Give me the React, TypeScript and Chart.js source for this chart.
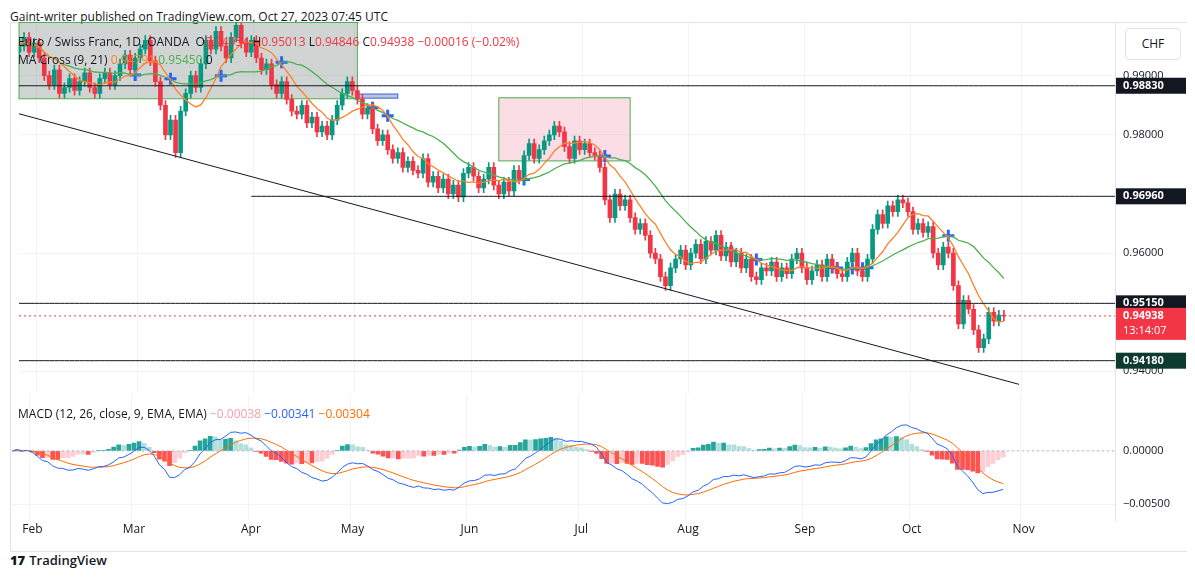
import React, { useEffect, useRef } from "react";
import { Chart, registerables } from "chart.js";
Chart.register(...registerables);

const closes = [
  0.9950, 0.9965, 0.9940, 0.9955,
  0.9930, 0.9900, 0.9885, 0.9910, 0.9870, 0.9880, 0.9895, 0.9875, 0.9890, 0.9905, 0.9880, 0.9870, 0.9895, 0.9905, 0.9885, 0.9900, 0.9920, 0.9935, 0.9910, 0.9930,
  0.9945, 0.9960, 0.9925, 0.9890, 0.9850, 0.9800, 0.9825, 0.9770, 0.9840, 0.9870, 0.9900, 0.9880, 0.9920, 0.9960, 0.9945, 0.9975, 0.9950, 0.9930, 0.9965, 0.9985, 0.9955, 0.9940, 0.9960,
  0.9930, 0.9910, 0.9920, 0.9885, 0.9870, 0.9890, 0.9860, 0.9840, 0.9835, 0.9850, 0.9820, 0.9830, 0.9805, 0.9815, 0.9800, 0.9825, 0.9850, 0.9870, 0.9890, 0.9875,
  0.9860, 0.9835, 0.9845, 0.9810, 0.9790, 0.9800, 0.9775, 0.9760, 0.9770, 0.9745, 0.9755, 0.9740, 0.9735, 0.9760, 0.9720, 0.9730, 0.9710, 0.9725, 0.9700, 0.9715, 0.9695, 0.9735, 0.9745,
  0.9730, 0.9710, 0.9725, 0.9745, 0.9715, 0.9700, 0.9720, 0.9705, 0.9740, 0.9725, 0.9765, 0.9785, 0.9760, 0.9775, 0.9790, 0.9800, 0.9815, 0.9805, 0.9780, 0.9760, 0.9790, 0.9775,
  0.9785, 0.9770, 0.9765, 0.9745, 0.9690, 0.9660, 0.9700, 0.9680, 0.9690, 0.9660, 0.9640, 0.9650, 0.9630, 0.9600, 0.9590, 0.9560, 0.9545, 0.9575, 0.9590, 0.9605, 0.9580,
  0.9600, 0.9615, 0.9590, 0.9620, 0.9605, 0.9630, 0.9595, 0.9610, 0.9585, 0.9600, 0.9575, 0.9590, 0.9560, 0.9555, 0.9575, 0.9570, 0.9585, 0.9560, 0.9575, 0.9565, 0.9590, 0.9600, 0.9575,
  0.9555, 0.9570, 0.9580, 0.9560, 0.9590, 0.9575, 0.9565, 0.9560, 0.9585, 0.9600, 0.9570, 0.9560, 0.9590, 0.9640, 0.9665, 0.9650, 0.9680, 0.9670, 0.9690, 0.9685, 0.9670,
  0.9640, 0.9650, 0.9635, 0.9645, 0.9600, 0.9580, 0.9610, 0.9600, 0.9545, 0.9480, 0.9520, 0.9505, 0.9470, 0.9440, 0.9455, 0.9500, 0.9485, 0.9495, 0.94938,
];
const firstOpen = 0.9940;
const wick = 0.0008;
const levels = [0.9883, 0.9696, 0.9515, 0.9418];
const levelLabels = ["0.98830", "0.96960", "0.95150", "0.94180"];
const lastPrice = 0.94938;
const priceTicks = [0.99, 0.98, 0.96, 0.94];
const macdTicks = [0, -0.005];
const trendStart = 0.98356;
const trendEnd = 0.9378;
const trendEndIdx = 198;
const level2StartIdx = 46;
const grayBox = { i0: 0, i1: 67, top: 0.999, bottom: 0.9861 };
const blueBox = { i0: 67, i1: 75, top: 0.9869, bottom: 0.9862 };
const pinkBox = { i0: 95, i1: 121, top: 0.98627, bottom: 0.97559 };
const monthNames = ["Jan", "Feb", "Mar", "Apr", "May", "Jun", "Jul", "Aug", "Sep", "Oct", "Nov", "Dec"];

const labels: string[] = [];
const monthStart: Record<number, string> = {};
{
  const d = new Date(Date.UTC(2023, 0, 26));
  let lastM = 0;
  while (labels.length < closes.length + 22) {
    const wd = d.getUTCDay();
    if (wd !== 0 && wd !== 6) {
      const m = d.getUTCMonth();
      if (m !== lastM) { monthStart[labels.length] = monthNames[m]; lastM = m; }
      labels.push(d.toISOString().slice(0, 10));
    }
    d.setUTCDate(d.getUTCDate() + 1);
  }
}

const opens = closes.map((c, i) => (i === 0 ? firstOpen : closes[i - 1]));
const sma = (n: number) => closes.map((_, i) => {
  const s = closes.slice(Math.max(0, i - n + 1), i + 1);
  return s.reduce((a, b) => a + b, 0) / s.length;
});
const ema = (arr: number[], n: number) => {
  const k = 2 / (n + 1); const out: number[] = []; let prev = arr[0];
  arr.forEach((v, i) => { prev = i === 0 ? v : v * k + prev * (1 - k); out.push(prev); });
  return out;
};
const ma9 = sma(9), ma21 = sma(21);
const e12 = ema(closes, 12), e26 = ema(closes, 26);
const macd = e12.map((v, i) => v - e26[i]);
const signal = ema(macd, 9);
const hist = macd.map((v, i) => v - signal[i]);
const crosses = closes.map((_, i) => {
  if (i === 0) return null;
  const a = ma9[i - 1] - ma21[i - 1], b = ma9[i] - ma21[i];
  return a * b < 0 ? ma21[i] : null;
});

const UP = "#089981", DN = "#f23645";

const rectPlugin = {
  id: "rects",
  beforeDatasetsDraw(chart: any) {
    const { ctx, scales: { x, y } } = chart;
    const box = (b: any, fill: string, stroke: string) => {
      const x0 = x.getPixelForValue(b.i0), x1 = x.getPixelForValue(b.i1);
      const y0 = y.getPixelForValue(b.top), y1 = y.getPixelForValue(b.bottom);
      ctx.save(); ctx.fillStyle = fill; ctx.fillRect(x0, y0, x1 - x0, y1 - y0);
      ctx.strokeStyle = stroke; ctx.lineWidth = 1; ctx.strokeRect(x0, y0, x1 - x0, y1 - y0); ctx.restore();
    };
    box(grayBox, "rgba(120,135,130,0.35)", "#4caf50");
    box(pinkBox, "rgba(247,180,200,0.45)", "#4caf50");
    box(blueBox, "rgba(180,185,190,0.8)", "#2962ff");
  },
  afterDraw(chart: any) {
    const { ctx, scales: { y }, chartArea } = chart;
    const lbl = (v: number, text: string, bg: string, h = 16, sub?: string) => {
      const py = y.getPixelForValue(v);
      ctx.save(); ctx.fillStyle = bg;
      const hh = sub ? 32 : h;
      ctx.fillRect(chartArea.right + 1, py - h / 2, 70, hh);
      ctx.fillStyle = "#fff"; ctx.font = "bold 11px 'Open Sans', sans-serif"; ctx.textBaseline = "middle";
      ctx.fillText(text, chartArea.right + 8, py);
      if (sub) { ctx.font = "11px 'Open Sans', sans-serif"; ctx.fillText(sub, chartArea.right + 8, py + 15); }
      ctx.restore();
    };
    lbl(levels[0], levelLabels[0], "#131722");
    lbl(levels[1], levelLabels[1], "#131722");
    lbl(levels[2], levelLabels[2], "#131722");
    lbl(levels[3], levelLabels[3], "#0d3b2e");
    lbl(lastPrice, lastPrice.toFixed(5), "#f23645", 16, "13:14:07");
  },
};

const monthGrid = (ctx: any) => (monthStart[ctx.index] ? "#f0f3fa" : "transparent");

export default function App() {
  const r1 = useRef<HTMLCanvasElement>(null);
  const r2 = useRef<HTMLCanvasElement>(null);
  useEffect(() => {
    const flat = (v: number, from = 0) => labels.map((_, i) => (i >= from ? v : null));
    const trend = labels.map((_, i) => (i === 0 ? trendStart : i === trendEndIdx ? trendEnd : null));
    const lineDs = (data: any[], color: string, extra: any = {}) => ({
      type: "line", data, borderColor: color, borderWidth: 1, pointRadius: 0, spanGaps: true, ...extra,
    });
    const c1 = new Chart(r1.current!, {
      type: "bar",
      data: {
        labels,
        datasets: [
          lineDs(flat(levels[0]), "#131722"),
          lineDs(flat(levels[1], level2StartIdx), "#131722"),
          lineDs(flat(levels[2]), "#131722"),
          lineDs(flat(levels[3]), "#131722"),
          lineDs(flat(lastPrice), "#f23645", { borderDash: [2, 3] }),
          lineDs(trend, "#131722"),
          lineDs(ma9, "#ff7f27", { borderWidth: 1.3 }),
          lineDs(ma21, "#4caf50", { borderWidth: 1.3 }),
          { type: "bar", data: closes.map((c, i) => [Math.min(c, opens[i]) - wick, Math.max(c, opens[i]) + wick]),
            backgroundColor: closes.map((c, i) => (c >= opens[i] ? UP : DN)), barThickness: 1, grouped: false } as any,
          { type: "bar", data: closes.map((c, i) => [opens[i], c === opens[i] ? c + 0.00005 : c]),
            backgroundColor: closes.map((c, i) => (c >= opens[i] ? UP : DN)), barThickness: 4, grouped: false } as any,
          lineDs(crosses, "#2962ff", { showLine: false, pointStyle: "cross", pointRadius: 6, pointBorderWidth: 3, pointBorderColor: "#2962ff" }),
        ] as any,
      },
      options: {
        animation: false, responsive: false, maintainAspectRatio: false,
        plugins: { legend: { display: false }, tooltip: { enabled: false } },
        layout: { padding: 0 },
        scales: {
          x: { offset: false, ticks: { display: false }, grid: { color: monthGrid as any, drawTicks: false }, border: { display: false } },
          y: {
            position: "right", min: 0.93627, max: 0.99898,
            afterBuildTicks: (s: any) => { s.ticks = priceTicks.map((v) => ({ value: v })); },
            afterFit: (s: any) => { s.width = 75; },
            ticks: { callback: (v: any) => Number(v).toFixed(5), color: "#131722", font: { size: 11, family: "'Open Sans', sans-serif" }, padding: 8 },
            grid: { color: "#f0f3fa", drawTicks: false }, border: { color: "#e0e3eb" },
          },
        },
      },
      plugins: [rectPlugin],
    } as any);
    const hcol = hist.map((h, i) => {
      const p = i ? hist[i - 1] : h;
      return h >= 0 ? (h >= p ? "#26a69a" : "#b2dfdb") : (h < p ? "#ff5252" : "#ffcdd2");
    });
    const c2 = new Chart(r2.current!, {
      type: "bar",
      data: {
        labels,
        datasets: [
          lineDs(flat(0), "#b2b5be", { borderDash: [2, 3] }),
          lineDs(macd, "#2962ff"),
          lineDs(signal, "#ff6d00"),
          { type: "bar", data: hist, backgroundColor: hcol, barThickness: 4, grouped: false } as any,
        ] as any,
      },
      options: {
        animation: false, responsive: false, maintainAspectRatio: false,
        plugins: { legend: { display: false }, tooltip: { enabled: false } },
        scales: {
          x: { offset: false, grid: { color: monthGrid as any, drawTicks: false }, border: { display: false },
            ticks: { autoSkip: false, maxRotation: 0, color: "#131722", font: { size: 12, family: "'Open Sans', sans-serif" }, padding: 2,
              callback: (_: any, i: number) => monthStart[i] || "" } },
          y: {
            position: "right", min: -0.00654, max: 0.00529,
            afterBuildTicks: (s: any) => { s.ticks = macdTicks.map((v) => ({ value: v })); },
            afterFit: (s: any) => { s.width = 75; },
            ticks: { callback: (v: any) => (Number(v) < 0 ? "\u2212" + Math.abs(Number(v)).toFixed(5) : Number(v).toFixed(5)), color: "#131722", font: { size: 11, family: "'Open Sans', sans-serif" }, padding: 8 },
            grid: { color: "#f0f3fa", drawTicks: false }, border: { color: "#e0e3eb" },
          },
        },
      },
    } as any);
    return () => { c1.destroy(); c2.destroy(); };
  }, []);
  const font = "'Open Sans', 'DejaVu Sans', sans-serif";
  return (
    <div style={{ position: "relative", width: 1180, height: 561, fontFamily: font, color: "#131722" }}>
      <div style={{ position: "absolute", left: 2, top: 0, fontSize: 12 }}>Gaint-writer published on TradingView.com, Oct 27, 2023 07:45 UTC</div>
      <div style={{ position: "absolute", left: 2, top: 14, width: 1180, height: 530, border: "1px solid #e0e3eb", boxSizing: "border-box" }} />
      <canvas ref={r1} width={1180} height={400} style={{ position: "absolute", left: 2, top: 0, width: 1180, height: 400 }} />
      <canvas ref={r2} width={1180} height={159} style={{ position: "absolute", left: 2, top: 372, width: 1180, height: 159 }} />
      <div style={{ position: "absolute", left: 10, top: 25, fontSize: 12, whiteSpace: "nowrap" }}>
        Euro / Swiss Franc, 1D, OANDA&nbsp; O<span style={{ color: "#f23645" }}>0.94954</span> H<span style={{ color: "#f23645" }}>0.95013</span> L<span style={{ color: "#f23645" }}>0.94846</span> C<span style={{ color: "#f23645" }}>0.94938 −0.00016 (−0.02%)</span>
      </div>
      <div style={{ position: "absolute", left: 10, top: 43, fontSize: 12, whiteSpace: "nowrap" }}>
        MA Cross (9, 21) <span style={{ color: "#ff7f27" }}>0.94791</span> <span style={{ color: "#4caf50" }}>0.95450</span> 0
      </div>
      <div style={{ position: "absolute", left: 10, top: 397, fontSize: 12, whiteSpace: "nowrap" }}>
        MACD (12, 26, close, 9, EMA, EMA) <span style={{ color: "#f7a1ad" }}>−0.00038</span> <span style={{ color: "#2962ff" }}>−0.00341</span> <span style={{ color: "#ff6d00" }}>−0.00304</span>
      </div>
      <div style={{ position: "absolute", left: 1117, top: 20, width: 54, height: 30, border: "1px solid #e0e3eb", borderRadius: 4, background: "#fff", fontSize: 12, textAlign: "center", lineHeight: "30px" }}>CHF</div>
      <div style={{ position: "absolute", left: 2, top: 543, fontSize: 13, fontWeight: 600 }}>
        <span style={{ fontWeight: 800, marginRight: 4 }}>17</span>TradingView
      </div>
    </div>
  );
}
